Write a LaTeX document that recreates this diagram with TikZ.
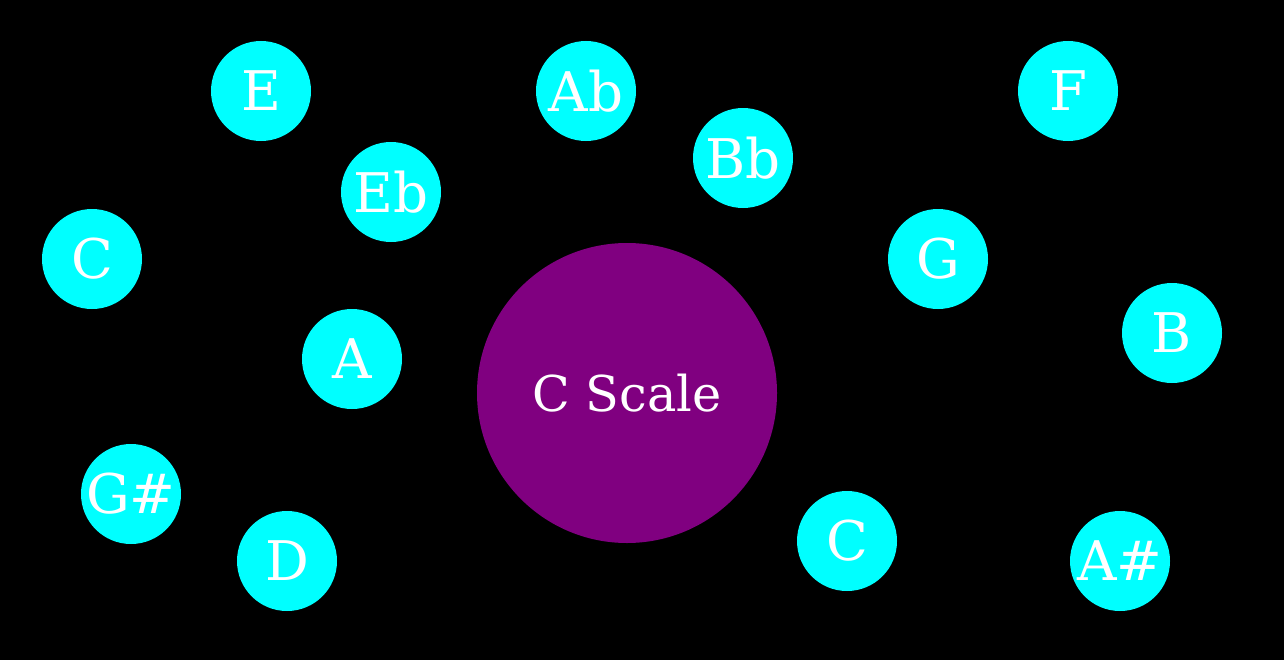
\documentclass[tikz,border=0pt]{standalone}
\usepackage{fontspec}
\setmainfont{DejaVu Serif}
\definecolor{notecyan}{HTML}{00FFFF}
\definecolor{scalepurple}{HTML}{800080}
\begin{document}
\begin{tikzpicture}[x=0.75pt,y=-0.75pt,
  note/.style={circle,fill=notecyan,text=white,minimum size=75pt,inner sep=0pt,font=\fontsize{41}{41}\selectfont},
  center/.style={circle,fill=scalepurple,text=white,minimum size=225pt,inner sep=0pt,font=\fontsize{37}{37}\selectfont}]
\fill[black] (0,0) rectangle (1284,660);
\useasboundingbox (0,0) rectangle (1284,660);
\node[center] (cs) at (627,393) {C Scale};
\node[note] (e) at (261,91) {E};
\node[note] (ab) at (586,91) {Ab};
\node[note] (f) at (1068,91) {F};
\node[note] (bb) at (743,158) {Bb};
\node[note] (eb) at (391,192) {Eb};
\node[note] (c1) at (92,259) {C};
\node[note] (g) at (938,259) {G};
\node[note] (b) at (1172,333) {B};
\node[note] (a) at (352,359) {A};
\node[note] (gs) at (131,494) {G\#};
\node[note] (d) at (287,561) {D};
\node[note] (c2) at (847,541) {C};
\node[note] (as) at (1120,561) {A\#};
\end{tikzpicture}
\end{document}
